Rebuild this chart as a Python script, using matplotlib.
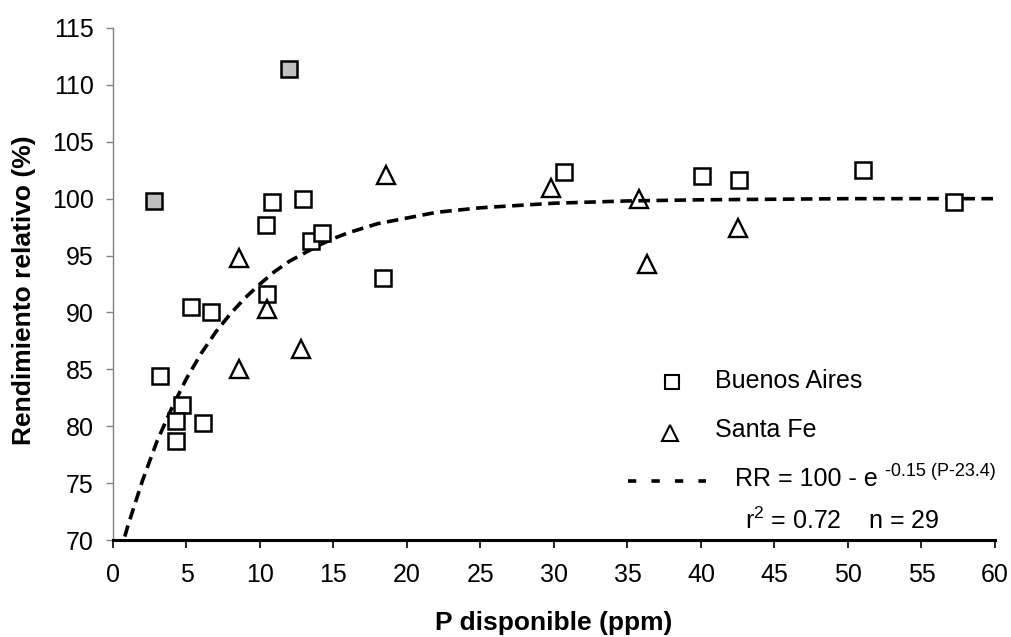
import matplotlib
matplotlib.use("Agg")
import matplotlib.pyplot as plt
from matplotlib.lines import Line2D
from matplotlib.transforms import offset_copy

plt.rcParams.update({
    "font.family": ["Liberation Sans", "DejaVu Sans"],
    "mathtext.fontset": "custom",
    "mathtext.rm": "Liberation Sans",
    "mathtext.it": "Liberation Sans",
})

# Buenos Aires (open squares)
ba_x = [10.8, 12.9, 10.4, 13.5, 14.2, 18.4, 10.5, 5.3, 6.7, 3.2, 4.7, 4.3, 6.1, 4.3,
        30.7, 40.1, 42.6, 51.0, 57.2]
ba_y = [99.7, 100.0, 97.7, 96.3, 97.0, 93.0, 91.6, 90.5, 90.0, 84.4, 81.9, 80.5, 80.3, 78.7,
        102.3, 102.0, 101.6, 102.5, 99.7]

# excluded points (grey squares)
out_x = [2.8, 12.0]
out_y = [99.8, 111.4]

# Santa Fe (open triangles)
sf_x = [18.6, 8.6, 10.5, 12.8, 8.6, 29.8, 35.8, 36.3, 42.5]
sf_y = [102.1, 94.8, 90.3, 86.8, 85.0, 100.9, 100.0, 94.3, 97.4]

# fitted curve
fit_x = [0.8, 1, 2, 3, 4, 5, 6, 7, 8, 9, 10, 11, 12, 13, 14, 15, 16, 18, 20, 22,
         25, 30, 35, 40, 50, 60]
fit_y = [70.3, 71.2, 75.2, 78.7, 81.6, 84.2, 86.4, 88.3, 89.9, 91.3, 92.5, 93.6, 94.5,
         95.2, 95.9, 96.5, 97.0, 97.8, 98.3, 98.8, 99.2, 99.6, 99.8, 99.9, 100.0, 100.0]

x_ticks = list(range(0, 61, 5))
y_ticks = list(range(70, 116, 5))

W, H = 1012, 637


def px(x, y):
    return x / W, 1 - y / H


fig = plt.figure(figsize=(W / 100, H / 100), dpi=100)
ax = fig.add_axes([113 / W, 1 - 540 / H, (995 - 113) / W, (540 - 28) / H])

ax.plot(fit_x, fit_y, color="black", lw=2.6, dashes=(3.2, 1.8), zorder=2)
ax.plot(ba_x, ba_y, "s", ms=11.5, mfc="white", mec="black", mew=1.8, ls="none", zorder=3)
ax.plot(out_x, out_y, "s", ms=11.5, mfc="#c0c0c0", mec="black", mew=1.8, ls="none", zorder=3)
ax.plot(sf_x, sf_y, "^", ms=12.5, mfc="none", mec="black", mew=1.7, ls="none", zorder=3)

ax.set_xlim(0, 60)
ax.set_ylim(70, 115)
ax.set_xticks(x_ticks)
ax.set_yticks(y_ticks)

for s in ("top", "right"):
    ax.spines[s].set_visible(False)
ax.spines["left"].set_color("#808080")
ax.spines["left"].set_linewidth(1.0)
ax.spines["bottom"].set_color("black")
ax.spines["bottom"].set_linewidth(2.2)
ax.tick_params(axis="x", direction="out", length=5.8, width=1.2, color="black",
               labelsize=18, pad=11)
ax.tick_params(axis="y", direction="out", length=5, width=1.0, color="#808080",
               labelsize=18, pad=9)

fig.text(*px(554, 623), "P disponible (ppm)", ha="center", va="center",
         fontsize=19, fontweight="bold")
fig.text(*px(24, 290), "Rendimiento relativo (%)", ha="center", va="center",
         rotation=90, fontsize=19, fontweight="bold")

# legend drawn by hand
fig.add_artist(Line2D([672 / W], [1 - 382 / H], marker="s", ms=10, mfc="white",
                      mec="black", mew=1.5, ls="none"))
fig.add_artist(Line2D([670 / W], [1 - 433 / H], marker="^", ms=11, mfc="none",
                      mec="black", mew=1.5, ls="none"))
fig.add_artist(Line2D([628 / W, 706 / W], [1 - 481 / H, 1 - 481 / H], color="black",
                      lw=2.6, dashes=(2.3, 4.2)))
fig.text(*px(715, 381), "Buenos Aires", ha="left", va="center", fontsize=18)
fig.text(*px(715, 430), "Santa Fe", ha="left", va="center", fontsize=18)
eq = fig.text(*px(735, 486), "RR = 100 - e ", ha="left", va="baseline", fontsize=18)
fig.canvas.draw()
bb = eq.get_window_extent()
fig.text(bb.x1 / W, bb.y0 / H + 0.0, "-0.15 (P-23.4)", ha="left", va="baseline",
         fontsize=13, transform=offset_copy(fig.transFigure, fig=fig, y=11, units="points"))
fig.text(*px(745, 521), r"r$^{2}$ = 0.72    n = 29", ha="left", va="center", fontsize=18)

fig.savefig("out.png", dpi=100)
